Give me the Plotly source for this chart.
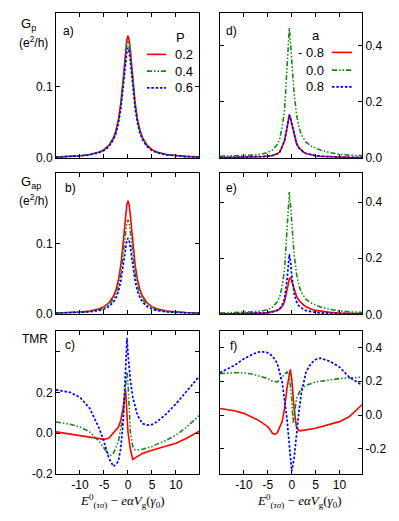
import plotly.graph_objects as go

# energy grid used for the conductance panels (gamma_0 units)
x_left = [-15, -12, -10, -8, -6, -5, -4, -3, -2.5, -2, -1.5, -1, -0.5, -0.25, 0,
          0.25, 0.5, 1, 1.5, 2, 2.5, 3, 4, 5, 6, 8, 10, 12, 15]
x_right = [-15, -12, -10, -8, -6, -5, -4, -3, -2.5, -2, -1.5, -1, -0.75, -0.5, -0.25,
           0, 0.5, 1, 1.5, 2, 2.5, 3, 4, 5, 6, 8, 10, 12, 15]

# a) G_p for P = 0.2, 0.4, 0.6
gp_p02 = [0.0014, 0.0022, 0.0031, 0.0048, 0.0083, 0.0117, 0.0176, 0.029, 0.0388, 0.0538, 0.077, 0.111,
          0.151, 0.166, 0.172, 0.166, 0.151, 0.111, 0.077, 0.0538, 0.0388, 0.029, 0.0176, 0.0117,
          0.0083, 0.0048, 0.0031, 0.0022, 0.0014]
gp_p04 = [0.0013, 0.0021, 0.003, 0.0046, 0.008, 0.0112, 0.0169, 0.0278, 0.0372, 0.0516, 0.0739, 0.1066,
          0.145, 0.159, 0.165, 0.159, 0.145, 0.1066, 0.0739, 0.0516, 0.0372, 0.0278, 0.0169, 0.0112,
          0.008, 0.0046, 0.003, 0.0021, 0.0013]
gp_p06 = [0.0012, 0.0019, 0.0028, 0.0043, 0.0075, 0.0105, 0.0158, 0.0261, 0.0349, 0.0484, 0.0693, 0.0999,
          0.136, 0.149, 0.155, 0.149, 0.136, 0.0999, 0.0693, 0.0484, 0.0349, 0.0261, 0.0158, 0.0105,
          0.0075, 0.0043, 0.0028, 0.0019, 0.0012]

# b) G_ap for P = 0.2, 0.4, 0.6
gap_p02 = [0.0012, 0.0019, 0.0027, 0.0041, 0.0072, 0.0102, 0.0154, 0.0254, 0.0343, 0.0478, 0.0691, 0.101,
           0.14, 0.155, 0.161, 0.155, 0.14, 0.101, 0.0691, 0.0478, 0.0343, 0.0254, 0.0154, 0.0102,
           0.0072, 0.0041, 0.0027, 0.0019, 0.0012]
gap_p04 = [0.001, 0.0016, 0.0022, 0.0034, 0.006, 0.0085, 0.0128, 0.0211, 0.0285, 0.0398, 0.0575, 0.0841,
           0.1167, 0.129, 0.134, 0.129, 0.1167, 0.0841, 0.0575, 0.0398, 0.0285, 0.0211, 0.0128, 0.0085,
           0.006, 0.0034, 0.0022, 0.0016, 0.001]
gap_p06 = [0.0008, 0.0013, 0.0018, 0.0028, 0.0048, 0.0068, 0.0103, 0.017, 0.023, 0.0321, 0.0464, 0.0678,
           0.0941, 0.104, 0.108, 0.104, 0.0941, 0.0678, 0.0464, 0.0321, 0.023, 0.017, 0.0103, 0.0068,
           0.0048, 0.0028, 0.0018, 0.0013, 0.0008]

# d) G_p for a = -0.8, 0.0, 0.8
gp_am08 = [0.001, 0.0015, 0.002, 0.003, 0.005, 0.0065, 0.009, 0.015, 0.021, 0.04, 0.062, 0.105, 0.128,
           0.154, 0.14, 0.12, 0.08, 0.052, 0.036, 0.027, 0.02, 0.016, 0.011, 0.008, 0.006, 0.004,
           0.003, 0.002, 0.0015]
gp_a00 = [0.006, 0.007, 0.008, 0.01, 0.015, 0.02, 0.029, 0.048, 0.068, 0.11, 0.17, 0.3, 0.39, 0.463,
          0.41, 0.34, 0.23, 0.155, 0.11, 0.083, 0.067, 0.056, 0.043, 0.035, 0.028, 0.019, 0.013, 0.01, 0.008]
gp_a08 = list(gp_am08)

# e) G_ap for a = -0.8, 0.0, 0.8
gap_am08 = [0.001, 0.0015, 0.002, 0.003, 0.005, 0.006, 0.009, 0.014, 0.019, 0.028, 0.045, 0.08, 0.105,
            0.128, 0.13, 0.118, 0.088, 0.065, 0.05, 0.04, 0.033, 0.027, 0.019, 0.014, 0.011, 0.007,
            0.005, 0.004, 0.003]
gap_a00 = [0.005, 0.006, 0.007, 0.009, 0.013, 0.017, 0.026, 0.045, 0.063, 0.1, 0.16, 0.28, 0.365,
           0.436, 0.39, 0.32, 0.215, 0.145, 0.103, 0.079, 0.064, 0.053, 0.041, 0.033, 0.026, 0.018, 0.012,
           0.009, 0.007]
gap_a08 = [0.001, 0.0015, 0.002, 0.003, 0.005, 0.006, 0.009, 0.015, 0.021, 0.032, 0.055, 0.12, 0.17,
           0.214, 0.19, 0.14, 0.075, 0.045, 0.03, 0.022, 0.017, 0.013, 0.009, 0.007, 0.005, 0.0035,
           0.0025, 0.002, 0.0015]

# c) TMR for P = 0.2, 0.4, 0.6
tmr_x_p02 = [-15, -12, -10, -8, -6, -5, -4, -3, -2, -1.5, -1, -0.5, -0.2, 0, 0.5, 1, 2, 3, 5, 10, 12, 15]
tmr_p02 = [0.006, -0.005, -0.015, -0.022, -0.029, -0.031, -0.026, 0.0, 0.03, 0.063, 0.127, 0.213,
           0.087, 0.006, -0.08, -0.13, -0.115, -0.1, -0.085, -0.05, -0.028, 0.011]
tmr_x_p04 = [-15, -12, -10, -8, -6, -5, -4, -3.5, -3, -2, -1, -0.5, -0.2, 0, 0.5, 1, 1.5, 2, 3, 5, 8,
             10, 12, 15]
tmr_p04 = [0.055, 0.043, 0.03, 0.006, -0.042, -0.077, -0.106, -0.11, -0.098, -0.042, 0.087, 0.232, 0.3,
           0.25, 0.006, -0.066, -0.082, -0.083, -0.08, -0.066, -0.035, -0.01, 0.025, 0.09]
tmr_x_p06 = [-15, -12, -10, -8, -6, -5, -4, -3, -2, -1.5, -1, -0.5, -0.2, 0, 0.5, 1, 2, 3, 4, 5, 6, 8,
             10, 12, 15]
tmr_p06 = [0.213, 0.2, 0.176, 0.123, 0.023, -0.042, -0.123, -0.165, -0.139, -0.074, 0.055, 0.297, 0.47,
           0.39, 0.26, 0.176, 0.087, 0.047, 0.039, 0.042, 0.055, 0.095, 0.144, 0.2, 0.284]

# f) TMR for a = -0.8, 0.0, 0.8
tmr_x_am08 = [-15, -12, -10, -7, -5, -4, -3.5, -3, -2, -1.5, -1, -0.5, -0.3, 0, 0.5, 1, 1.5, 2, 5, 10,
              12, 15]
tmr_am08 = [0.039, 0.025, 0.01, -0.03, -0.069, -0.108, -0.114, -0.104, -0.039, 0.039, 0.157, 0.255, 0.27,
            0.216, 0.039, -0.075, -0.092, -0.092, -0.078, -0.039, -0.01, 0.069]
tmr_x_a00 = [-15, -12, -10, -8, -5, -4, -3, -2, -1, -0.5, 0, 0.3, 0.7, 1, 2, 3, 5, 10, 15]
tmr_a00 = [0.245, 0.251, 0.249, 0.241, 0.216, 0.2, 0.196, 0.225, 0.255, 0.235, 0.098, -0.05, 0.039,
           0.098, 0.157, 0.176, 0.196, 0.216, 0.225]
tmr_x_a08 = [-15, -12, -10, -8, -6.5, -5, -4, -3, -2, -1.5, -1, -0.5, 0, 0.5, 1, 1.5, 2, 3, 4, 5, 6, 8,
             10, 12, 15]
tmr_a08 = [0.251, 0.294, 0.333, 0.363, 0.376, 0.369, 0.349, 0.304, 0.196, 0.098, -0.02, -0.176, -0.333,
           -0.255, -0.098, 0.02, 0.127, 0.255, 0.304, 0.329, 0.337, 0.318, 0.284, 0.225, 0.173]

x_ticks = [-10, -5, 0, 5, 10]
x_tick_text = ['-10', '-5', '0', '5', '10']
p_labels = ['0.2', '0.4', '0.6']
a_labels = ['- 0.8', '0.0', '0.8']

W, H = 399, 521
FONT = 'Liberation Sans, Arial, sans-serif'
SERIF = 'Liberation Serif, DejaVu Serif, serif'
RED, GREEN, BLUE = '#ff0000', '#138a13', '#0000ff'
LINES = [dict(color=RED, width=1.6),
         dict(color=GREEN, width=1.6, dash='5px,2px,1.5px,2px,1.5px,2px'),
         dict(color=BLUE, width=1.7, dash='2.5px,1.8px')]


def fx(p):
    return p / W


def fy(p):
    return 1 - p / H


fig = go.Figure()

# (suffix, x pixel span, y pixel span, x range, y range, y ticks, y tick text, side, bottom?)
panels = [
    ('', (48, 191), (5, 152), [-15, 14.8], [0, 0.204], [0, 0.1], ['0.0', '0.1'], 'left', False),
    ('2', (48, 191), (167, 310), [-15, 14.8], [0, 0.201], [0, 0.1], ['0.0', '0.1'], 'left', False),
    ('3', (48, 191), (327, 472), [-15, 14.8], [-0.2, 0.505], [-0.2, 0, 0.2, 0.4],
     ['-0.2', '0.0', '0.2', ''], 'left', True),
    ('4', (212, 354), (5, 152), [-15, 14.7], [0, 0.516], [0, 0.2, 0.4], ['0.0', '0.2', '0.4'], 'right', False),
    ('5', (212, 354), (167, 310.5), [-15, 14.7], [0, 0.505], [0, 0.2, 0.4], ['0.0', '0.2', '0.4'], 'right', False),
    ('6', (212, 354), (327, 472), [-15, 14.7], [-0.347, 0.5], [-0.2, 0, 0.2, 0.4],
     ['-0.2', '0.0', '0.2', '0.4'], 'right', True),
]

series = [
    [(x_left, gp_p02), (x_left, gp_p04), (x_left, gp_p06)],
    [(x_left, gap_p02), (x_left, gap_p04), (x_left, gap_p06)],
    [(tmr_x_p02, tmr_p02), (tmr_x_p04, tmr_p04), (tmr_x_p06, tmr_p06)],
    [(x_right, gp_am08), (x_right, gp_a00), (x_right, gp_a08)],
    [(x_right, gap_am08), (x_right, gap_a00), (x_right, gap_a08)],
    [(tmr_x_am08, tmr_am08), (tmr_x_a00, tmr_a00), (tmr_x_a08, tmr_a08)],
]

axis_common = dict(showline=True, linecolor='black', linewidth=1, mirror='ticks', ticks='inside',
                   ticklen=4, tickcolor='black', showgrid=False, zeroline=False,
                   tickfont=dict(family=FONT, size=12, color='black'))

for (suf, xs, ys, xr, yr, yt, ytt, side, bottom), curves in zip(panels, series):
    for (xv, yv), ln in zip(curves, LINES):
        fig.add_trace(go.Scatter(x=xv, y=yv, mode='lines', line=ln, showlegend=False,
                                 xaxis='x' + suf, yaxis='y' + suf))
    fig.layout['xaxis' + suf] = dict(axis_common, domain=[fx(xs[0]), fx(xs[1])], range=xr,
                                     anchor='y' + suf, tickvals=x_ticks, ticktext=x_tick_text,
                                     showticklabels=bottom)
    fig.layout['yaxis' + suf] = dict(axis_common, domain=[fy(ys[1]), fy(ys[0])], range=yr,
                                     anchor='x' + suf, tickvals=yt, ticktext=ytt, side=side)

ann = []


def text(s, x, y, size=12, xanchor='left', family=FONT):
    ann.append(dict(text=s, x=fx(x), y=fy(y), xref='paper', yref='paper', showarrow=False,
                    xanchor=xanchor, yanchor='middle', font=dict(family=family, size=size, color='black')))


# axis labels
text('G<sub>p</sub>', 11, 17, size=13)
text('(e<sup>2</sup>/h)', 9, 34)
text('G<sub>ap</sub>', 11, 177, size=13)
text('(e<sup>2</sup>/h)', 9, 195)
text('TMR', 12, 336)

# panel letters
for s, x, y in [('a)', 53, 23), ('b)', 55, 182), ('c)', 55, 342),
                ('d)', 216, 23), ('e)', 216, 182), ('f)', 220, 343)]:
    text(s, x, y)

# x-axis titles: E^0_(tau sigma) - e alpha V_g (gamma_0)
xtitle = '<i>E</i><sup>0</sup><sub>(<i>τσ</i>)</sub> − <i>eαV</i><sub>g</sub>(<i>γ</i><sub>0</sub>)'
text(xtitle, 114, 500, size=13, xanchor='center', family=SERIF)
text(xtitle, 291, 500, size=13, xanchor='center', family=SERIF)

# legends
shapes = []
text('P', 166, 30, size=13)
for lab, ln, y in zip(p_labels, LINES, [47, 64, 81]):
    shapes.append(dict(type='line', xref='paper', yref='paper', x0=fx(139), x1=fx(158),
                       y0=fy(y), y1=fy(y), line=ln))
    text(lab, 165, y, size=13)
text('a', 302, 28, size=13)
for lab, ln, y in zip(a_labels, LINES, [45, 63, 80]):
    shapes.append(dict(type='line', xref='paper', yref='paper', x0=fx(324), x1=fx(344),
                       y0=fy(y), y1=fy(y), line=ln))
    text(lab, 318, y, size=13, xanchor='right')

fig.update_layout(width=W, height=H, margin=dict(l=0, r=0, t=0, b=0),
                  paper_bgcolor='white', plot_bgcolor='white',
                  annotations=ann, shapes=shapes)

fig.write_html("out.html")
